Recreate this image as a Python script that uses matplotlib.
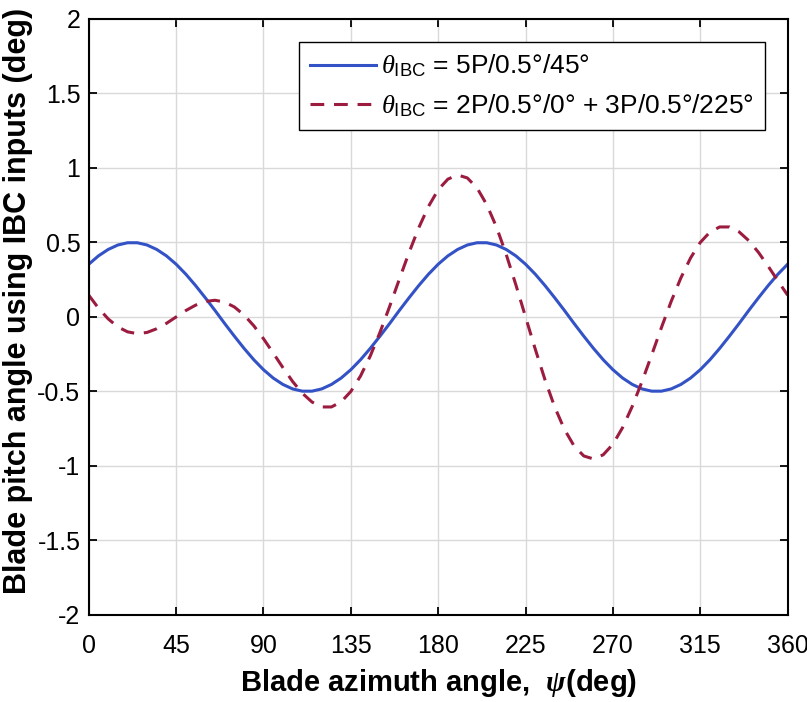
"""Blade pitch angle from two IBC input cases, plotted against blade azimuth."""

import matplotlib

matplotlib.use("Agg")

import matplotlib.pyplot as plt
import numpy as np
from matplotlib.ticker import FixedLocator, FuncFormatter

# ---------------------------------------------------------------------------
# Data (5 deg spacing)
# ---------------------------------------------------------------------------
psi_deg = np.arange(0, 361, 5)

theta_5p = [
    0.354, 0.410, 0.453, 0.483, 0.498, 0.498, 0.483, 0.453, 0.410, 0.354,
    0.287, 0.211, 0.129, 0.044, -0.044, -0.129, -0.211, -0.287, -0.354, -0.410,
    -0.453, -0.483, -0.498, -0.498, -0.483, -0.453, -0.410, -0.354, -0.287, -0.211,
    -0.129, -0.044, 0.044, 0.129, 0.211, 0.287,
    0.354, 0.410, 0.453, 0.483, 0.498, 0.498, 0.483, 0.453, 0.410, 0.354,
    0.287, 0.211, 0.129, 0.044, -0.044, -0.129, -0.211, -0.287, -0.354, -0.410,
    -0.453, -0.483, -0.498, -0.498, -0.483, -0.453, -0.410, -0.354, -0.287, -0.211,
    -0.129, -0.044, 0.044, 0.129, 0.211, 0.287, 0.354,
]

theta_2p3p = [
    0.146, 0.059, -0.013, -0.067, -0.100, -0.112, -0.104, -0.079, -0.043, 0.000,
    0.043, 0.079, 0.104, 0.112, 0.100, 0.067, 0.013, -0.059, -0.146, -0.242,
    -0.340, -0.433, -0.512, -0.571, -0.604, -0.604, -0.570, -0.500, -0.396, -0.262,
    -0.104, 0.071, 0.254, 0.433, 0.599, 0.742, 0.854, 0.925, 0.953, 0.933,
    0.866, 0.754, 0.604, 0.421, 0.216, 0.000, -0.216, -0.421, -0.604, -0.754,
    -0.866, -0.933, -0.953, -0.925, -0.854, -0.742, -0.599, -0.433, -0.254, -0.071,
    0.104, 0.262, 0.396, 0.500, 0.570, 0.604, 0.604, 0.571, 0.512, 0.433,
    0.340, 0.242, 0.146,
]

label_5p = r"$\theta_{\mathrm{IBC}}$ = 5P/0.5°/45°"
label_2p3p = r"$\theta_{\mathrm{IBC}}$ = 2P/0.5°/0° + 3P/0.5°/225°"

x_ticks = [0, 45, 90, 135, 180, 225, 270, 315, 360]
y_ticks = [-2, -1.5, -1, -0.5, 0, 0.5, 1, 1.5, 2]

# ---------------------------------------------------------------------------
# Style
# ---------------------------------------------------------------------------
plt.rcParams["font.family"] = ["Liberation Sans", "DejaVu Sans"]
plt.rcParams["mathtext.fontset"] = "custom"
plt.rcParams["mathtext.rm"] = "Liberation Sans"
plt.rcParams["mathtext.it"] = "Liberation Serif:italic"
plt.rcParams["mathtext.bf"] = "Liberation Sans:bold"
plt.rcParams["mathtext.bfit"] = "Liberation Serif:italic:bold"

BLUE = "#3352c6"
RED = "#9c1c40"

fig = plt.figure(figsize=(8.07, 7.02), dpi=100)
ax = fig.add_axes([0.110, 0.124, 0.866, 0.849])

ax.plot(psi_deg, theta_5p, color=BLUE, lw=2.2, label=label_5p)
ax.plot(psi_deg, theta_2p3p, color=RED, lw=2.2, ls=(0, (4.5, 3.2)), label=label_2p3p)

ax.set_xlim(0, 360)
ax.set_ylim(-2, 2)
ax.xaxis.set_major_locator(FixedLocator(x_ticks))
ax.yaxis.set_major_locator(FixedLocator(y_ticks))
ax.yaxis.set_major_formatter(FuncFormatter(lambda v, _: f"{v:g}"))
ax.tick_params(direction="in", length=6, width=1.3, labelsize=18,
               top=True, right=True)
ax.tick_params(axis="x", pad=14)
ax.tick_params(axis="y", pad=6)
ax.grid(color="#d9d9d9", lw=1.0)
ax.set_axisbelow(True)
for sp in ax.spines.values():
    sp.set_linewidth(1.5)

ax.set_xlabel(r"Blade azimuth angle,  $\mathbfit{\psi}$(deg)",
              fontsize=21, fontweight="bold", labelpad=6)
ax.set_ylabel("Blade pitch angle using IBC inputs (deg)",
              fontsize=22, fontweight="bold")
ax.yaxis.set_label_coords(-0.080, 0.527)

leg = ax.legend(loc="upper right", bbox_to_anchor=(0.967, 0.961), fontsize=19,
                borderaxespad=0, fancybox=False, framealpha=1, edgecolor="black",
                handlelength=2.5, handletextpad=0.2, borderpad=0.4,
                labelspacing=0.5)
leg.get_frame().set_linewidth(1.0)

fig.savefig("out.png", dpi=100)
